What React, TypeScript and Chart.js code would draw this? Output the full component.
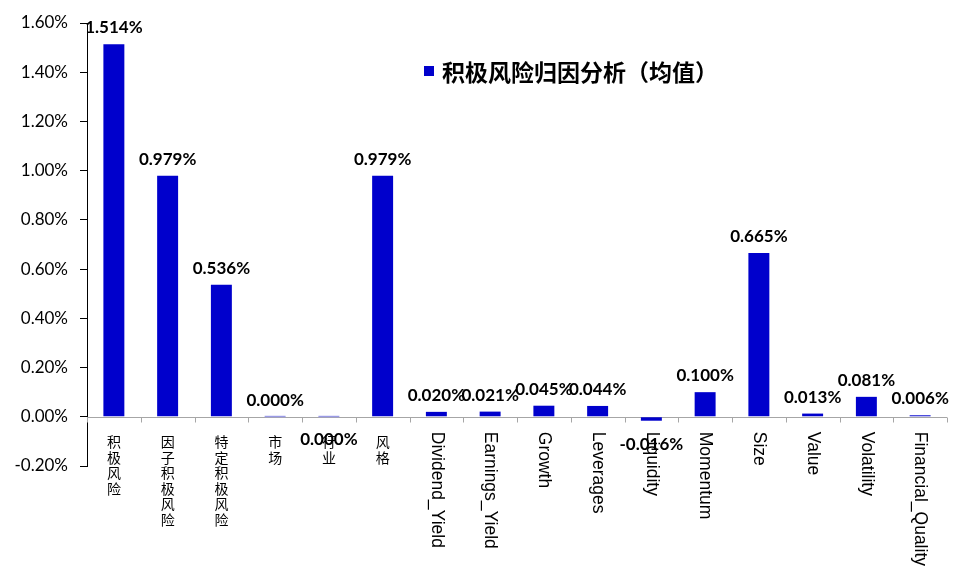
import React, { useEffect, useRef } from "react";
import { Chart, registerables } from "chart.js";
Chart.register(...registerables);

const categories = [
  "积极风险", "因子积极风险", "特定积极风险", "市场", "行业", "风格",
  "Dividend_Yield", "Earnings_Yield", "Growth", "Leverages", "Liquidity",
  "Momentum", "Size", "Value", "Volatility", "Financial_Quality",
];
const values = [
  1.514, 0.979, 0.536, 0.0, 0.0, 0.979, 0.02, 0.021, 0.045, 0.044, -0.016,
  0.1, 0.665, 0.013, 0.081, 0.006,
];
const seriesName = "积极风险归因分析（均值）";
const yMin = -0.2;
const yMax = 1.6;
const yStep = 0.2;
// categories whose value label Excel placed below the axis
const labelsBelowAxis = ["行业"];

const BAR_COLOR = "#0000CC";
const isCJK = (s: string) => /[\u4e00-\u9fff]/.test(s);

const drawPlugin = {
  id: "customDraw",
  beforeDatasetsDraw(chart: any) {
    const ctx = chart.ctx;
    const area = chart.chartArea;
    const y = chart.scales.y;
    const x = chart.scales.x;
    const y0 = Math.round(y.getPixelForValue(0)) + 0.5;
    ctx.save();
    ctx.strokeStyle = "#a6a6a6";
    ctx.lineWidth = 1;
    ctx.beginPath();
    ctx.moveTo(area.left, y0);
    ctx.lineTo(area.right, y0);
    const w = x.getPixelForValue(1) - x.getPixelForValue(0);
    for (let i = 0; i <= categories.length; i++) {
      const bx = Math.round(x.getPixelForValue(0) - w / 2 + i * w) + 0.5;
      ctx.moveTo(bx, y0);
      ctx.lineTo(bx, y0 + 5);
    }
    ctx.stroke();
    ctx.restore();
  },
  afterDatasetsDraw(chart: any) {
    const ctx = chart.ctx;
    const y = chart.scales.y;
    const x = chart.scales.x;
    const y0 = y.getPixelForValue(0);
    const meta = chart.getDatasetMeta(0);
    ctx.save();
    // zero-height bars show as a faint line
    meta.data.forEach((el: any, i: number) => {
      if (values[i] === 0) {
        ctx.fillStyle = "#9a9ae6";
        ctx.fillRect(el.x - el.width / 2, y0 - 1, el.width, 1.5);
      }
    });
    // value labels
    ctx.fillStyle = "#000";
    ctx.font = "bold 17px Lato, 'Liberation Sans', sans-serif";
    ctx.textAlign = "center";
    meta.data.forEach((el: any, i: number) => {
      const v = values[i];
      const txt = v.toFixed(3) + "%";
      const below = v < 0 || labelsBelowAxis.includes(categories[i]);
      if (below) {
        ctx.textBaseline = "top";
        const bottom = Math.max(el.y, el.base);
        ctx.fillText(txt, el.x, v < 0 ? bottom + 15 : y0 + 14);
      } else {
        ctx.textBaseline = "alphabetic";
        ctx.fillText(txt, el.x, Math.min(el.y, el.base) - 11);
      }
    });
    // category labels
    categories.forEach((c, i) => {
      const cx = x.getPixelForValue(i);
      if (isCJK(c)) {
        ctx.font = "14px 'Noto Sans CJK SC', sans-serif";
        ctx.textAlign = "center";
        ctx.textBaseline = "middle";
        Array.from(c).forEach((ch, k) => {
          ctx.fillText(ch, cx, y0 + 25 + k * 15.5);
        });
      } else {
        ctx.save();
        ctx.font = "17.5px 'Liberation Sans', Arial, sans-serif";
        ctx.translate(cx, y0 + 15);
        ctx.rotate(Math.PI / 2);
        ctx.textAlign = "left";
        ctx.textBaseline = "middle";
        ctx.fillText(c, 0, 0);
        ctx.restore();
      }
    });
    // legend
    const area = chart.chartArea;
    const lx = area.left + 337;
    const ly = area.top + 51;
    ctx.fillStyle = BAR_COLOR;
    ctx.fillRect(lx, ly - 8, 10, 10);
    ctx.fillStyle = "#000";
    ctx.font = "bold 23px 'Noto Sans CJK SC', sans-serif";
    ctx.textAlign = "left";
    ctx.textBaseline = "middle";
    ctx.fillText(seriesName, lx + 18, ly - 2);
    ctx.restore();
  },
};

export default function App() {
  const ref = useRef<HTMLCanvasElement | null>(null);
  useEffect(() => {
    document.body.style.margin = "0";
    const chart = new Chart(ref.current as HTMLCanvasElement, {
      type: "bar",
      data: {
        labels: categories,
        datasets: [
          {
            label: seriesName,
            data: values,
            backgroundColor: BAR_COLOR,
            categoryPercentage: 1,
            barPercentage: 0.39,
          },
        ],
      },
      options: {
        animation: false,
        responsive: false,
        layout: { padding: { top: 23, bottom: 104, right: 10, left: 0 } },
        plugins: { legend: { display: false }, tooltip: { enabled: false } },
        scales: {
          x: { display: false },
          y: {
            min: yMin,
            max: yMax,
            afterFit: (s: any) => {
              s.width = 87;
            },
            ticks: {
              stepSize: yStep,
              color: "#000",
              padding: 12,
              font: { family: "Lato", size: 17 },
              callback: (v: any) => {
                const n = Math.abs(Number(v)) < 1e-9 ? 0 : Number(v);
                return n.toFixed(2) + "%";
              },
            },
            grid: {
              drawOnChartArea: false,
              drawTicks: true,
              tickLength: 7,
              color: "#000",
            },
            border: { display: true, color: "#000" },
          },
        },
      },
      plugins: [drawPlugin],
    });
    return () => chart.destroy();
  }, []);
  return (
    <div style={{ position: "absolute", left: 0, top: 0, width: 957, height: 570 }}>
      <canvas ref={ref} width={957} height={570} />
    </div>
  );
}
